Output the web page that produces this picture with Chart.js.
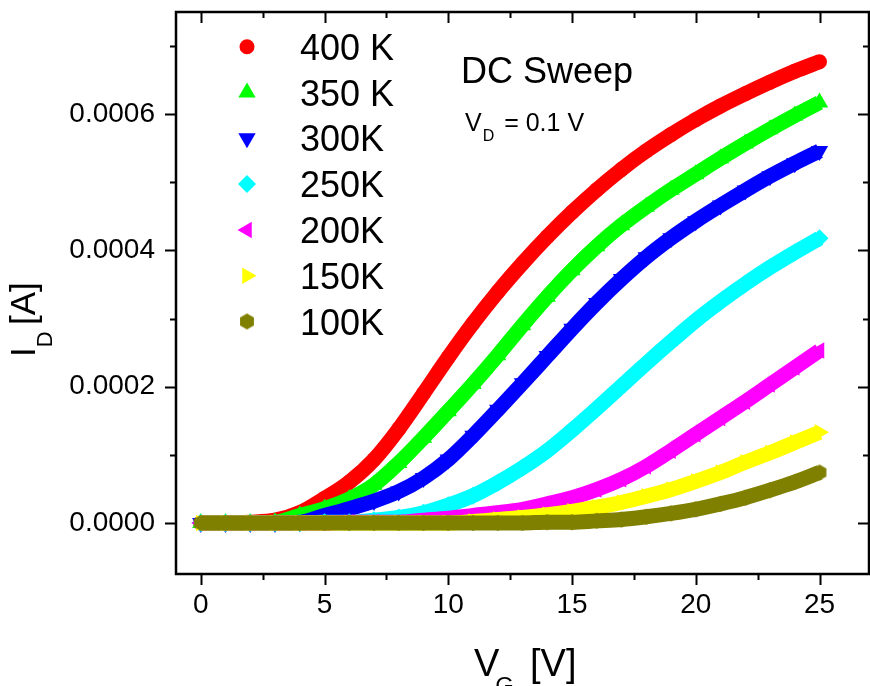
<!DOCTYPE html>
<html>
<head>
<meta charset="utf-8">
<title>DC Sweep</title>
<script src="https://cdn.jsdelivr.net/npm/chart.js@4.4.1/dist/chart.umd.min.js"></script>
<style>
  html, body { margin: 0; padding: 0; background: #fff; }
  #wrap { position: relative; width: 870px; height: 686px; }
</style>
</head>
<body>
<div id="wrap"><canvas id="transferChart" width="870" height="686"></canvas></div>
<script>
// gate voltage sweep (V)
const gateVoltage = [0, 1, 2, 3, 4, 5, 6, 7, 8, 9, 10, 11, 12, 13, 14, 15, 16, 17, 18, 19, 20, 21, 22, 23, 24, 25];

// drain current (A) per temperature
const id400K = [0, 0, 1e-6, 4e-6, 15e-6, 36e-6, 60e-6, 93e-6, 138e-6, 190e-6, 243e-6, 293e-6, 339e-6, 381e-6, 420e-6, 456e-6, 489e-6, 519e-6, 546e-6, 570e-6, 592e-6, 612e-6, 630e-6, 647e-6, 663e-6, 677e-6];
const id350K = [0, 0, 0, 1e-6, 11e-6, 21e-6, 35e-6, 56e-6, 88e-6, 125e-6, 164e-6, 204e-6, 246e-6, 290e-6, 332e-6, 371e-6, 406e-6, 437e-6, 464e-6, 489e-6, 512e-6, 535e-6, 557e-6, 578e-6, 598e-6, 617e-6];
const id300K = [0, 0, 0, 0, 1e-6, 11e-6, 21e-6, 32e-6, 46e-6, 66e-6, 93e-6, 128e-6, 166e-6, 205e-6, 245e-6, 285e-6, 323e-6, 358e-6, 390e-6, 418e-6, 443e-6, 466e-6, 488e-6, 509e-6, 528e-6, 546e-6];
const id250K = [0, 0, 0, 0, 0, 1e-6, 1e-6, 4e-6, 8e-6, 15e-6, 26e-6, 40e-6, 59e-6, 81e-6, 106e-6, 136e-6, 168e-6, 201e-6, 234e-6, 266e-6, 297e-6, 325e-6, 351e-6, 375e-6, 397e-6, 418e-6];
const id200K = [0, 0, 0, 0, 0, 0, 1e-6, 1e-6, 1e-6, 4e-6, 7e-6, 11e-6, 15e-6, 20e-6, 28e-6, 37e-6, 49e-6, 64e-6, 83e-6, 106e-6, 130e-6, 154e-6, 178e-6, 203e-6, 228e-6, 253e-6];
const id150K = [0, 0, 0, 0, 0, 0, 0, 0, 0, 0, 0, 2e-6, 5e-6, 8e-6, 12e-6, 17e-6, 23e-6, 30e-6, 39e-6, 49e-6, 61e-6, 74e-6, 89e-6, 103e-6, 118e-6, 133e-6];
const id100K = [0, 0, 0, 0, 0, 0, 0, 0, 0, 0, 0, 0, 0, 0, 1e-6, 1e-6, 3e-6, 5e-6, 9e-6, 14e-6, 20e-6, 28e-6, 37e-6, 48e-6, 60e-6, 74e-6];

const seriesLabels = ['400 K', '350 K', '300K', '250K', '200K', '150K', '100K'];
const seriesData = [id400K, id350K, id300K, id250K, id200K, id150K, id100K];

const xTicks = [0, 5, 10, 15, 20, 25];
const yTicks = [0, 0.0002, 0.0004, 0.0006];

const FONT = "'Liberation Sans', Arial, Helvetica, sans-serif";
const PLOT_RIGHT = 869;

function hexagonMarker(color, r) {
    const c = document.createElement('canvas');
    const s = Math.ceil(r * 2) + 2;
    c.width = s; c.height = s;
    const g = c.getContext('2d');
    g.fillStyle = color;
    g.beginPath();
    for (let i = 0; i < 6; i++) {
        const ang = Math.PI / 3 * i - Math.PI / 2;
        const px = s / 2 + r * Math.cos(ang), py = s / 2 + r * Math.sin(ang);
        if (i) g.lineTo(px, py); else g.moveTo(px, py);
    }
    g.closePath();
    g.fill();
    return c;
}

// marker per series: colour, shape, size, rotation
const markers = [
    { color: '#ff0000', style: 'circle',   radius: 7.5, rotation: 0 },
    { color: '#00ff00', style: 'triangle', radius: 10,  rotation: 0 },
    { color: '#0000ff', style: 'triangle', radius: 10,  rotation: 180 },
    { color: '#00ffff', style: 'rectRot',  radius: 9,   rotation: 0 },
    { color: '#ff00ff', style: 'triangle', radius: 9.5, rotation: -90 },
    { color: '#ffff00', style: 'triangle', radius: 9.5, rotation: 90 },
    { color: '#808000', style: hexagonMarker('#808000', 8), radius: 8, rotation: 0 },
];

const datasets = seriesData.map((ids, i) => ({
    label: seriesLabels[i],
    data: gateVoltage.map((v, k) => ({ x: v, y: ids[k] })),
    borderColor: markers[i].color,
    backgroundColor: markers[i].color,
    borderWidth: 15,
    pointStyle: markers[i].style,
    pointRadius: markers[i].radius,
    pointRotation: markers[i].rotation,
    pointBorderWidth: 0,
    pointHoverRadius: markers[i].radius,
    cubicInterpolationMode: 'monotone',
    order: seriesData.length - i,   // lowest temperature on top
}));

// half-step minor positions between major ticks, inside the scale range
function minorTicks(scale, majors) {
    const step = majors[1] - majors[0];
    const out = [];
    if (majors[0] - step / 2 >= scale.min) out.push(majors[0] - step / 2);
    majors.forEach(t => { if (t + step / 2 <= scale.max) out.push(t + step / 2); });
    return out;
}

// stretch the plot box to the right edge after chart.js has laid it out
const plotBox = {
    id: 'plotBox',
    afterLayout(chart) {
        const x = chart.scales.x, a = chart.chartArea;
        x.right = PLOT_RIGHT;
        x.width = x.right - x.left;
        x.configure();
        a.right = PLOT_RIGHT;
        a.width = a.right - a.left;
    }
};

// box frame with Origin style ticks: outward on left/bottom, inward on top/right
const frameTicks = {
    id: 'frameTicks',
    afterDatasetsDraw(chart) {
        const { ctx, chartArea: a, scales: { x, y } } = chart;
        const major = 11, minor = 6;
        ctx.save();
        ctx.strokeStyle = '#000';
        ctx.lineWidth = 2;
        ctx.beginPath();
        const xm = xTicks.map(v => [v, major]).concat(minorTicks(x, xTicks).map(v => [v, minor]));
        xm.forEach(([v, len]) => {
            const px = Math.round(x.getPixelForValue(v)) + 0.5;
            ctx.moveTo(px, a.bottom); ctx.lineTo(px, a.bottom + len);
            ctx.moveTo(px, a.top); ctx.lineTo(px, a.top + len);
        });
        const ym = yTicks.map(v => [v, major]).concat(minorTicks(y, yTicks).map(v => [v, minor]));
        ym.forEach(([v, len]) => {
            const py = Math.round(y.getPixelForValue(v)) + 0.5;
            ctx.moveTo(a.left - len, py); ctx.lineTo(a.left, py);
            ctx.moveTo(a.right - len, py); ctx.lineTo(a.right, py);
        });
        ctx.stroke();
        ctx.lineWidth = 2.5;
        ctx.strokeRect(a.left, a.top, a.right - a.left, a.bottom - a.top);
        ctx.restore();
    }
};

// legend, annotation and axis titles with subscripts
const annotations = {
    id: 'annotations',
    afterDraw(chart) {
        const ctx = chart.ctx;
        ctx.save();
        ctx.fillStyle = '#000';
        ctx.textAlign = 'left';
        ctx.textBaseline = 'alphabetic';

        // legend
        const lx = 247, tx = 300, top = 46.7, gap = 45.8;
        chart.data.datasets.forEach((ds, i) => {
            const cy = top + i * gap;
            ctx.fillStyle = ds.backgroundColor;
            Chart.helpers.drawPoint(ctx, {
                pointStyle: ds.pointStyle, radius: ds.pointRadius,
                rotation: ds.pointRotation, borderWidth: 0
            }, lx, cy);
            ctx.fillStyle = '#000';
            ctx.font = '36px ' + FONT;
            ctx.fillText(ds.label, tx, cy + 13);
        });

        ctx.font = '36px ' + FONT;
        ctx.fillText('DC Sweep', 461, 83);

        // V_D = 0.1 V
        ctx.font = '25px ' + FONT;
        ctx.fillText('V', 465, 131);
        let w = ctx.measureText('V').width;
        ctx.font = '16px ' + FONT;
        ctx.fillText('D', 465 + w + 1, 141);
        const wd = ctx.measureText('D').width;
        ctx.font = '25px ' + FONT;
        ctx.fillText(' = 0.1 V', 465 + w + wd + 4, 131);

        // x title: V_G [V]
        ctx.font = '38px ' + FONT;
        ctx.fillText('V', 474, 676);
        w = ctx.measureText('V').width;
        ctx.font = '24px ' + FONT;
        ctx.fillText('G', 474 + w - 4, 694);
        ctx.font = '38px ' + FONT;
        ctx.fillText('[V]', 530, 676);

        // y title: I_D [A]
        ctx.translate(35, 357);
        ctx.rotate(-Math.PI / 2);
        ctx.font = '35px ' + FONT;
        ctx.fillText('I', 0, 0);
        w = ctx.measureText('I').width;
        ctx.font = '22px ' + FONT;
        ctx.fillText('D', w, 17);
        ctx.font = '35px ' + FONT;
        ctx.fillText('[A]', 32, 0);
        ctx.restore();
    }
};

// fixed axis box sizes, no label overhang padding
function fixBox(s, size) {
    if (s.isHorizontal()) s.height = size; else s.width = size;
    s.paddingTop = 0; s.paddingBottom = 0; s.paddingLeft = 0; s.paddingRight = 0;
}

const ctx = document.getElementById('transferChart').getContext('2d');
new Chart(ctx, {
    type: 'line',
    data: { datasets: datasets },
    options: {
        responsive: false,
        animation: false,
        events: [],
        layout: { autoPadding: false, padding: { top: 12, right: 1, left: 0, bottom: 0 } },
        plugins: { legend: { display: false }, tooltip: { enabled: false } },
        scales: {
            x: {
                type: 'linear', min: -1, max: 27,
                grid: { display: false, drawTicks: false },
                border: { display: false },
                afterFit: s => fixBox(s, 112),
                afterBuildTicks: s => { s.ticks = xTicks.map(v => ({ value: v })); },
                ticks: {
                    color: '#000', padding: 14, autoSkip: false, maxRotation: 0,
                    font: { family: FONT, size: 28 },
                    callback: v => String(v)
                }
            },
            y: {
                type: 'linear', min: -0.000075, max: 0.00075,
                grid: { display: false, drawTicks: false },
                border: { display: false },
                afterFit: s => fixBox(s, 176),
                afterBuildTicks: s => { s.ticks = yTicks.map(v => ({ value: v })); },
                ticks: {
                    color: '#000', padding: 21, autoSkip: false,
                    font: { family: FONT, size: 28 },
                    callback: v => v.toFixed(4)
                }
            }
        }
    },
    plugins: [plotBox, frameTicks, annotations]
});
</script>
</body>
</html>
